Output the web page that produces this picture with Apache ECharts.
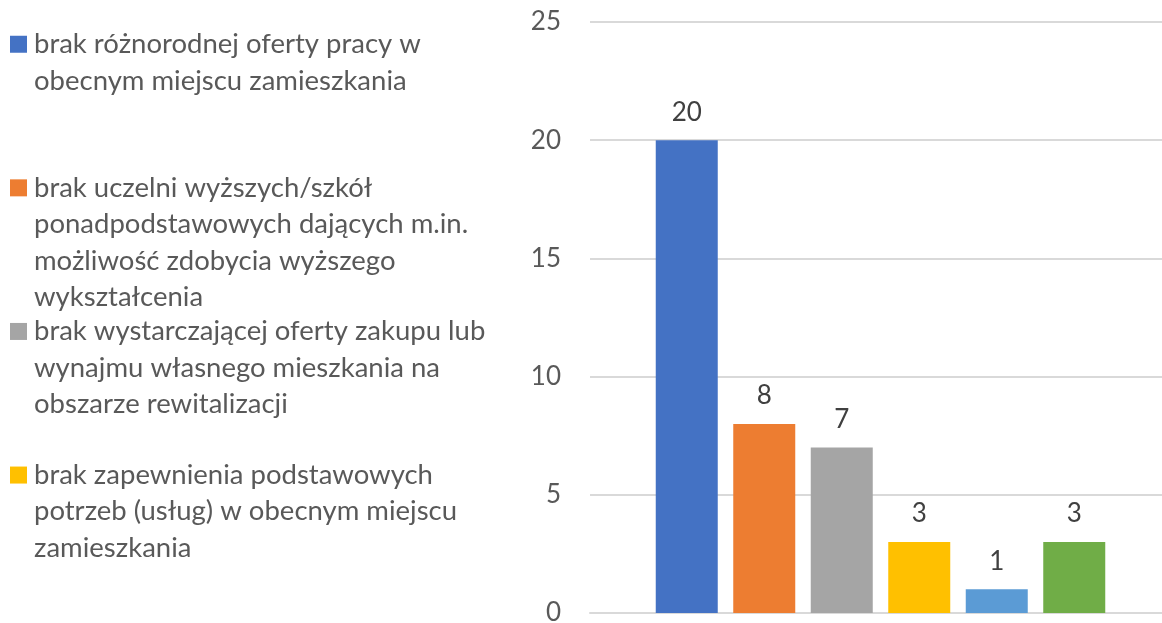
<!DOCTYPE html>
<html>
    <head>
        <meta charset="utf-8">
        <title>Bariery</title>
        <script src="https://cdn.jsdelivr.net/npm/echarts@6/dist/echarts.min.js"></script>
        <style>
            html, body { margin: 0; padding: 0; background: #fff; }
        </style>
    </head>
    <body>
        <div id="container" style="width: 1162px; height: 623px"></div>
    </body>
    <script>
        // nazwy serii (z podzialem na linie jak w legendzie)
        var seriesNames = [
            'brak różnorodnej oferty pracy w\nobecnym miejscu zamieszkania',
            'brak uczelni wyższych/szkół\nponadpodstawowych dających m.in.\nmożliwość zdobycia wyższego\nwykształcenia',
            'brak wystarczającej oferty zakupu lub\nwynajmu własnego mieszkania na\nobszarze rewitalizacji',
            'brak zapewnienia podstawowych\npotrzeb (usług) w obecnym miejscu\nzamieszkania',
            'seria 5',
            'seria 6'
        ];
        var seriesValues = [20, 8, 7, 3, 1, 3];
        var seriesColors = ['#4472C4', '#ED7D31', '#A5A5A5', '#FFC000', '#5B9BD5', '#70AD47'];
        var shownInLegend = 4;
        var yTicks = [0, 5, 10, 15, 20, 25];

        var chartDom = document.getElementById('container');
        var myChart = echarts.init(chartDom);
        var FONT = 'Lato';

        var legends = [];
        for (var i = 0; i < shownInLegend; i++) {
            (function (i) {
                var rich = {
                    sq: { width: 17, height: 17, backgroundColor: seriesColors[i] },
                    gap: { width: 7 },
                    ind: { width: 24 },
                    t: { fontFamily: FONT, fontSize: 27.5, color: '#595959', lineHeight: 36.5 }
                };
                legends.push({
                    orient: 'vertical',
                    left: 0,
                    top: 21 + i * 143.6,
                    icon: 'none',
                    itemWidth: 0,
                    itemHeight: 17,
                    selectedMode: false,
                    data: [seriesNames[i]],
                    textStyle: { rich: rich, fontFamily: FONT, fontSize: 27.5, color: '#595959', lineHeight: 36.5 },
                    formatter: function (name) {
                        var lines = name.split('\n');
                        return lines.map(function (l, k) {
                            return (k === 0 ? '{sq|}{gap|}' : '{ind|}') + '{t|' + l + '}';
                        }).join('\n');
                    }
                });
            })(i);
        }

        var option = {
            animation: false,
            legend: legends,
            grid: {
                left: 590,
                top: 22,
                right: -9,
                bottom: 10,
                outerBoundsMode: 'none'
            },
            xAxis: {
                type: 'category',
                data: [''],
                axisLine: { lineStyle: { color: '#D9D9D9', width: 2 } },
                axisTick: { show: false },
                axisLabel: { show: false }
            },
            yAxis: {
                type: 'value',
                min: yTicks[0],
                max: yTicks[yTicks.length - 1],
                interval: 5,
                axisLine: { show: false },
                axisTick: { show: false },
                splitLine: { lineStyle: { color: '#D9D9D9', width: 2 } },
                axisLabel: {
                    margin: 29,
                    fontFamily: FONT,
                    fontSize: 26,
                    color: '#595959'
                }
            },
            series: seriesNames.map(function (n, i) {
                return {
                    name: n,
                    type: 'bar',
                    barWidth: 62,
                    barGap: '25%',
                    data: [seriesValues[i]],
                    itemStyle: { color: seriesColors[i] },
                    label: {
                        show: true,
                        position: 'top',
                        distance: 15,
                        fontFamily: FONT,
                        fontSize: 26,
                        color: '#404040'
                    }
                };
            })
        };

        myChart.setOption(option);
    </script>
</html>
